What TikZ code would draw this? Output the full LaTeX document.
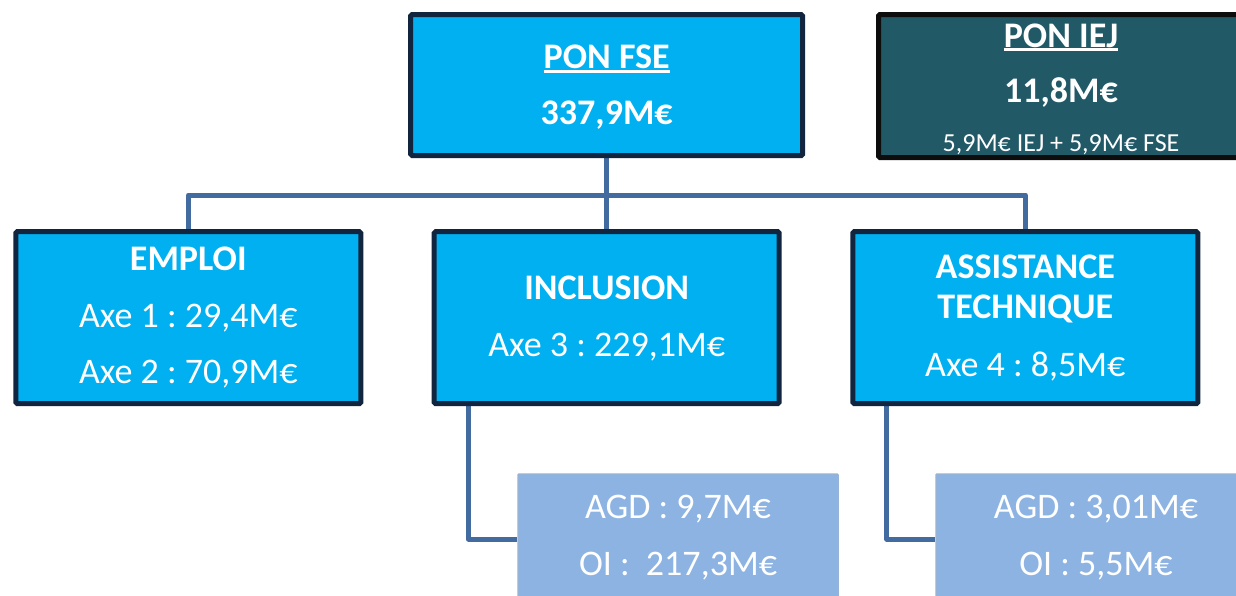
\documentclass[tikz,border=0pt]{standalone}
\usepackage{fontspec}
\setmainfont{Carlito}
\frenchspacing
\definecolor{cyanfill}{HTML}{00B0F0}
\definecolor{navyline}{HTML}{11253F}
\definecolor{connblue}{HTML}{426B9F}
\definecolor{iejfill}{HTML}{215967}
\definecolor{agdfill}{HTML}{8DB3E2}
\definecolor{agdline}{HTML}{95B3D7}
\pgfdeclarelayer{background}
\pgfsetlayers{background,main}
\newcommand{\myul}[1]{\leavevmode\setbox0=\hbox{#1}\rlap{\rule[-4.4pt]{\wd0}{3pt}}\box0}
\tikzset{
  mainbox/.style={draw=navyline, line width=5pt, fill=cyanfill, rounded corners=1.5pt, inner sep=0pt},
  iejbox/.style={draw=black!95, line width=5pt, fill=iejfill, rounded corners=1.5pt, inner sep=0pt},
  agdbox/.style={draw=agdline, line width=1.5pt, fill=agdfill, rounded corners=1pt, inner sep=0pt},
  conn/.style={draw=connblue, line width=5pt, line join=round},
  big/.style={text=white, anchor=base, inner sep=0pt, font=\fontsize{36}{40}\selectfont},
  bigb/.style={big, font=\fontsize{36}{40}\selectfont\bfseries},
  small/.style={text=white, anchor=base, inner sep=0pt, font=\fontsize{26}{30}\selectfont}
}
\begin{document}
\begin{tikzpicture}[x=1pt,y=-1pt]
\clip (0,0) rectangle (1236,595);
% boxes
\node[mainbox, minimum width=392pt, minimum height=141pt] (fse) at (606.7,85) {};
\node[iejbox, minimum width=362pt, minimum height=143pt] (iej) at (1059.5,86) {};
\node[mainbox, minimum width=345pt, minimum height=172pt] (emp) at (188.3,317.7) {};
\node[mainbox, minimum width=345pt, minimum height=172pt] (inc) at (606.7,317.7) {};
\node[mainbox, minimum width=345pt, minimum height=172pt] (ass) at (1025.3,317.7) {};
\node[agdbox, minimum width=320pt, minimum height=130pt] (agda) at (678,539) {};
\node[agdbox, minimum width=320pt, minimum height=130pt] (agdb) at (1096,539) {};
% connectors (behind boxes)
\begin{pgfonlayer}{background}
\fill[white] (0,0) rectangle (1236,595);
\coordinate (bus) at (606.7,195);
\draw[conn] (emp.north) |- (bus) -| (ass.north);
\draw[conn] (fse.south) -- (inc.north);
\draw[conn] ([xshift=-138.4pt]inc.south) |- (agda.west);
\draw[conn] ([xshift=-138.6pt]ass.south) |- (agdb.west);
\end{pgfonlayer}
% texts
\node[bigb] (t1) at (606.7,68.5) {\myul{PON FSE}};
\node[bigb] (t2) at (606.7,124) {337,9M€};
\node[bigb] (t3) at (1061,47) {\myul{PON IEJ}};
\node[bigb] (t4) at (1061,102) {11,8M€};
\node[small] (t5) at (1061,151.5) {5,9M€ IEJ + 5,9M€ FSE};
\node[bigb] (t6) at (188.3,270.7) {EMPLOI};
\node[big] (t7) at (188.3,327.3) {Axe 1 : 29,4M€};
\node[big] (t8) at (188.3,383.3) {Axe 2 : 70,9M€};
\node[bigb] (t9) at (606.7,299.3) {INCLUSION};
\node[big] (t10) at (606.7,356) {Axe 3 : 229,1M€};
\node[bigb] (t11) at (1025.3,278.3) {ASSISTANCE};
\node[bigb] (t12) at (1025.3,318.3) {TECHNIQUE};
\node[big] (t13) at (1025.3,376) {Axe 4 : 8,5M€};
\node[big] (t14) at (678,518) {AGD : 9,7M€};
\node[big] (t15) at (678,575) {OI :\ \ 217,3M€};
\node[big] (t16) at (1096,518) {AGD : 3,01M€};
\node[big] (t17) at (1096,575) {OI : 5,5M€};
\end{tikzpicture}
\end{document}
